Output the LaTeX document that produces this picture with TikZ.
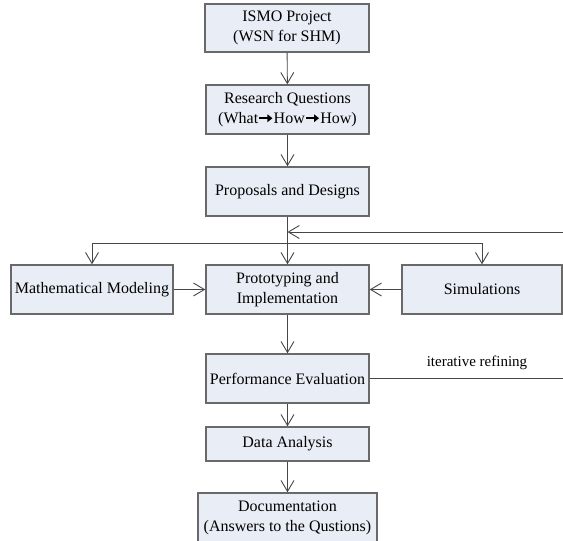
\documentclass[tikz,border=0pt]{standalone}
\usepackage{fontspec}
\setmainfont{Liberation Serif}
\usetikzlibrary{arrows.meta}
\definecolor{boxfill}{RGB}{233,237,245}
\definecolor{boxline}{RGB}{105,105,105}
\definecolor{wire}{RGB}{70,70,70}
\tikzset{
  stage/.style={draw=boxline, fill=boxfill, line width=1.4pt, inner sep=0pt,
    align=center, font=\fontsize{16}{20}\selectfont},
  flow/.style={draw=wire, line width=0.9pt,
    -{Straight Barb[length=11pt,width=13pt,line width=0.9pt]}},
  wireline/.style={draw=wire, line width=0.9pt}
}
% heavy arrow used inside the question box
\newcommand{\heavyarrow}{\kern0.5pt\tikz[baseline=-0.32em]\draw[line width=1.5pt,
  -{Triangle[length=5pt,width=7.5pt]}] (0,0) -- (13pt,0);\kern0.5pt}
\begin{document}
\begin{tikzpicture}[x=1pt,y=-1pt]
  \useasboundingbox (0,0) rectangle (563,541);
  \clip (0,0) rectangle (563,541);

  % main column
  \node[stage, minimum width=164pt, minimum height=48pt] (ismo) at (287,28)
    {ISMO Project\\(WSN for SHM)};
  \node[stage, minimum width=163pt, minimum height=49pt] (rq) at (287.5,109.5)
    {Research Questions\\(What\heavyarrow How\heavyarrow How)};
  \node[stage, minimum width=163pt, minimum height=49pt] (pd) at (287.5,191.5)
    {Proposals and Designs};

  % middle row
  \node[stage, minimum width=162pt, minimum height=49pt] (mm) at (92,289.5)
    {Mathematical Modeling};
  \node[stage, minimum width=163pt, minimum height=49pt] (pi) at (287.5,289.5)
    {Prototyping and\\Implementation};
  \node[stage, minimum width=160pt, minimum height=49pt] (sim) at (482,289.5)
    {Simulations};

  % lower column
  \node[stage, minimum width=163pt, minimum height=49pt] (pe) at (287.5,378.5)
    {Performance Evaluation};
  \node[stage, minimum width=163pt, minimum height=34pt] (da) at (287.5,444)
    {Data Analysis};
  \node[stage, minimum width=179pt, minimum height=50pt] (doc) at (287.5,518)
    {Documentation\\(Answers to the Qustions)};

  % straight flow
  \draw[flow] (ismo) -- (rq);
  \draw[flow] (rq) -- (pd);
  \draw[flow] (pd) -- (pi);
  \draw[flow] (pi) -- (pe);
  \draw[flow] (pe) -- (da);
  \draw[flow] (da) -- (doc);

  % fan-out to the side stages
  \coordinate (fanL) at (92,243);
  \coordinate (fanR) at (482,243);
  \draw[wireline] (fanL) -- (fanR);
  \draw[flow] (fanL) -- (mm.north);
  \draw[flow] (fanR) -- (sim.north);

  % side inputs
  \draw[flow] (mm) -- (pi);
  \draw[flow] (sim) -- (pi);

  % feedback loop
  \coordinate (loopB) at (564,378.5);
  \coordinate (loopT) at (564,232);
  \coordinate (loopIn) at (287.5,232);
  \draw[wireline] (pe.east) -- (loopB) -- (loopT);
  \draw[flow] (loopT) -- (loopIn);
  \node[font=\fontsize{15}{18}\selectfont] (lbl) at (477,363) {iterative refining};
\end{tikzpicture}
\end{document}
